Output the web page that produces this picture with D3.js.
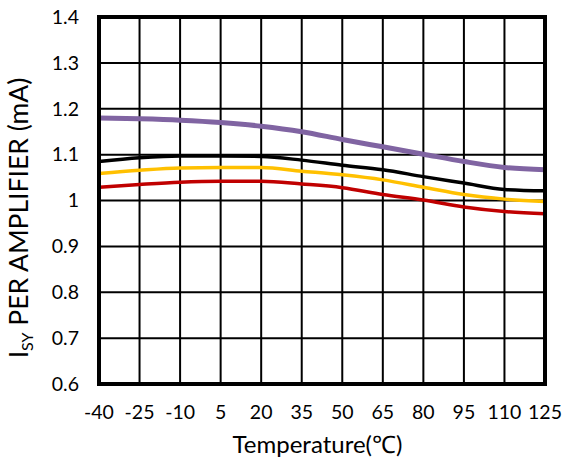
<!DOCTYPE html>
<html><head><meta charset="utf-8">
<script src="https://cdn.jsdelivr.net/npm/d3@7"></script>
<style>body{margin:0;background:#fff}svg{display:block}text{font-family:Lato,"Open Sans",sans-serif;fill:#000}</style>
</head><body><svg id="c" width="563" height="458"></svg>
<script>
const temps = [-40,-25,-10,5,20,35,50,65,80,95,110,125];
const yTicks = [0.6,0.7,0.8,0.9,1,1.1,1.2,1.3,1.4];
const purple = [1.180,1.178,1.175,1.170,1.162,1.150,1.133,1.117,1.101,1.085,1.072,1.067];
const black  = [1.085,1.093,1.097,1.097,1.096,1.088,1.077,1.067,1.052,1.038,1.024,1.021];
const yellow = [1.059,1.066,1.071,1.072,1.072,1.064,1.056,1.045,1.029,1.013,1.003,0.998];
const red    = [1.029,1.035,1.040,1.042,1.042,1.036,1.028,1.013,1.001,0.986,0.976,0.971];
const series = [
  {v:black, c:"#000000", w:3.5},
  {v:yellow, c:"#FFC000", w:3.5},
  {v:red, c:"#C00000", w:3.5},
  {v:purple, c:"#8064A2", w:5}
];
const L=99,R=545,T=17,B=384;
const svg=d3.select("#c");
const x=d3.scaleLinear().domain([-40,125]).range([L,R]);
const y=d3.scaleLinear().domain([0.6,1.4]).range([B,T]);
const g=svg.append("g");
g.selectAll("line.v").data(temps).join("line").attr("x1",d=>x(d)).attr("x2",d=>x(d)).attr("y1",T).attr("y2",B).attr("stroke","#000").attr("stroke-width",2);
g.selectAll("line.h").data(yTicks).join("line").attr("class","h").attr("y1",d=>y(d)).attr("y2",d=>y(d)).attr("x1",L).attr("x2",R).attr("stroke","#000").attr("stroke-width",2);
const line=d3.line().x((d,i)=>x(temps[i])).y(d=>y(d)).curve(d3.curveMonotoneX);
series.forEach(s=>{
  svg.append("path").attr("d",line(s.v)).attr("fill","none").attr("stroke",s.c).attr("stroke-width",s.w).attr("stroke-linecap","butt");
});
svg.append("rect").attr("x",L).attr("y",T).attr("width",R-L).attr("height",B-T).attr("fill","none").attr("stroke","#000").attr("stroke-width",4);
svg.selectAll("text.yt").data(yTicks).join("text").attr("class","yt").attr("x",79).attr("y",d=>y(d)).attr("dy","0.35em").attr("text-anchor","end").attr("font-size",19.5).text(d=>d3.format("")(d));
svg.selectAll("text.xt").data(temps).join("text").attr("class","xt").attr("x",d=>x(d)).attr("y",419).attr("text-anchor","middle").attr("font-size",19.5).text(d=>d);
svg.append("text").attr("x",317.5).attr("y",453).attr("text-anchor","middle").attr("font-size",24).text("Temperature(℃)");
const yl=svg.append("text").attr("transform","translate(28,218) rotate(-90)").attr("text-anchor","middle").attr("font-size",26.5);
yl.append("tspan").text("I");
yl.append("tspan").attr("font-size",16).attr("dy",5).text("SY");
yl.append("tspan").attr("dy",-5).text(" PER AMPLIFIER (mA)");
</script></body></html>
